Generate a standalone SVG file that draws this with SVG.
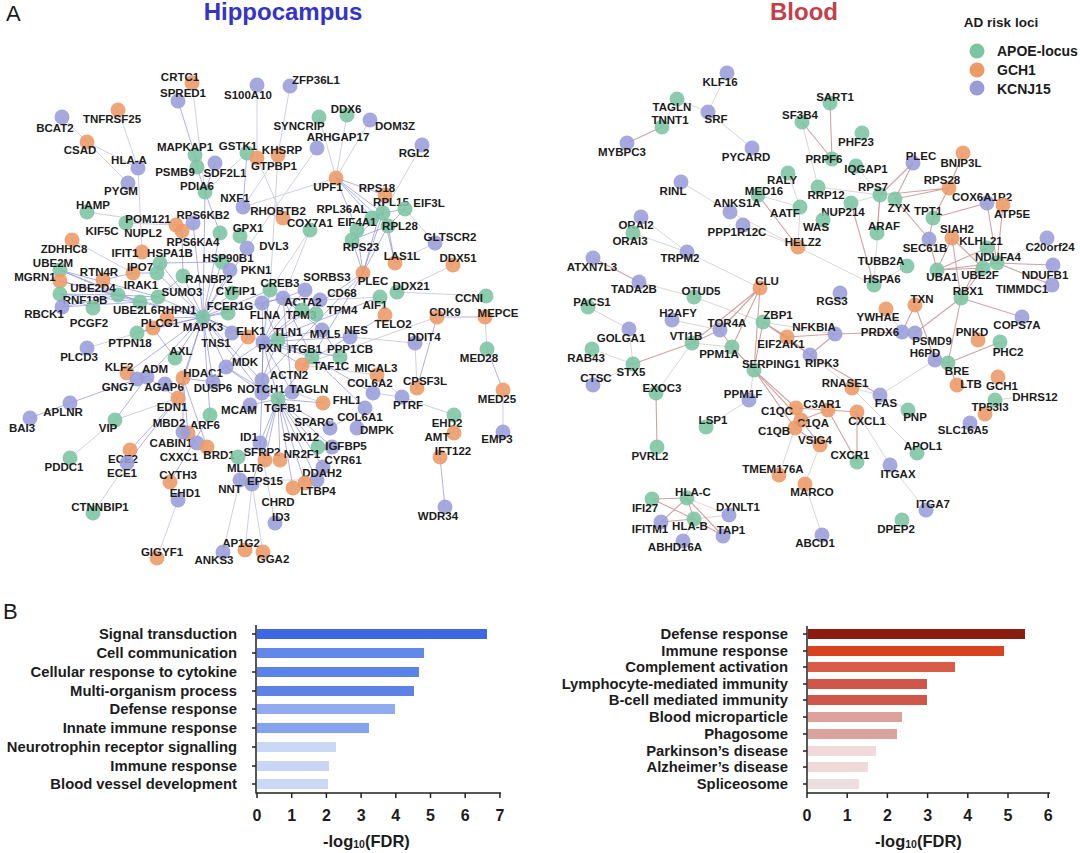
<svg xmlns="http://www.w3.org/2000/svg" width="1080" height="853" viewBox="0 0 1080 853">
<style>
text{font-family:"Liberation Sans",Arial,sans-serif;font-weight:bold;fill:#1c1c1c}
.node text{font-size:11.5px;text-anchor:middle}
.node circle{fill-opacity:.88}
.g circle{fill:#7cc4a2}
.o circle{fill:#ec9a66}
.p circle{fill:#989dd8}
.he{stroke:#7c7cd8;stroke-opacity:.6;stroke-width:1;fill:none}
.hl{stroke:#cfd0e2;stroke-width:1;fill:none}
.be{stroke:#c48282;stroke-opacity:.75;stroke-width:1.1;fill:none}
.bl{stroke:#ddd6d6;stroke-width:1;fill:none}
.lbl{font-size:14.8px;text-anchor:end}
.tick{font-size:16px;text-anchor:middle}
.ax{stroke:#222;stroke-width:1.5;fill:none}
</style>
<rect width="1080" height="853" fill="#ffffff"/>
<text x="6" y="21" style="font-weight:normal;font-size:22px">A</text>
<text x="3" y="619" style="font-weight:normal;font-size:22px">B</text>
<text x="283" y="20" style="font-size:24px;text-anchor:middle;fill:#3434c8">Hippocampus</text>
<text x="804" y="20" style="font-size:24px;text-anchor:middle;fill:#c2404a">Blood</text>
<g id="legend">
<text x="1001" y="27" style="font-size:13.5px;text-anchor:middle">AD risk loci</text>
<circle cx="977" cy="51" r="7.5" fill="#7cc4a2"/><text x="997" y="56" style="font-size:14px">APOE-locus</text>
<circle cx="977" cy="70" r="7.5" fill="#ec9a66"/><text x="997" y="75" style="font-size:14px">GCH1</text>
<circle cx="977" cy="88" r="7.5" fill="#989dd8"/><text x="997" y="94" style="font-size:14px">KCNJ15</text>
</g>
<g id="connectors">
<path class="hl" d="M192 83L205 192M257 85L257 158M290 86L278 155M118 110L138 168M138 168L142 252M62 117L128 183M87 142L138 168M87 212L176 225M319 117L336 178M347 115L336 178M370 120L336 178M317 148L247 248M257 158L283 218M422 145L383 213M405 209L435 243M395 263L435 243M453 265L397 292M486 296L397 292M385 315L380 297M485 317L487 349M503 390L503 432M454 433L454 415M454 415L402 397M402 397L373 393M415 343L417 388M157 558L178 500M178 500L170 482M93 513L127 463M70 458L115 420M115 420L178 398M275 523L260 443M223 552L240 480M245 550L252 484M263 552L252 484M72 240L133 273M87 348L137 333M126 223L176 225M310 230L283 298M270 290L278 155M283 218L243 207M336 178L243 207M377 375L402 397M357 428L365 408M330 428L365 408M317 480L240 480M323 467L332 447M302 365L437 317M350 337L415 343M247 153L205 192M278 155L243 207M320 300L380 297M377 375L302 365M323 403L292 392M310 230L270 290"/>
<path class="he" d="M178 101L195 155M195 155L197 167M197 167L205 192M215 163L205 192M247 153L243 207M205 192L203 317M205 192L220 233M336 178L385 195M336 178L383 213M336 178L388 226M336 178L357 230M336 178L372 218M385 195L383 213M383 213L405 209M388 226L405 209M383 213L352 240M388 226L352 240M385 195L363 273M383 213L363 273M388 226L363 273M357 230L363 273M352 240L363 273M388 226L395 263M383 213L395 263M357 230L383 213M372 218L385 195M203 317L248 337M203 317L263 342M203 317L153 328M203 317L167 318M203 317L183 276M203 317L213 382M203 317L183 378M203 317L228 313M203 317L232 333M203 317L178 398M203 317L226 367M203 317L175 358M203 317L147 377M203 317L127 373M203 317L157 273M203 317L158 297M203 317L232 293M203 317L230 270M203 317L193 223M203 317L222 262M203 317L247 248M203 317L137 333M203 317L262 393M203 317L210 415M203 317L283 298M203 317L278 399M203 317L140 302M203 317L160 263M203 317L220 233M203 317L270 290M263 342L312 357M263 342L278 340M263 342L262 380M263 342L262 303M263 342L278 399M263 342L262 393M263 342L226 367M263 342L270 290M263 342L283 298M263 342L292 392M263 342L302 310M263 342L322 330M263 342L340 357M263 342L302 365M263 342L305 290M263 342L363 273M263 342L350 337M263 342L380 297M278 399L330 428M278 399L260 443M278 399L292 392M278 399L318 447M278 399L332 447M278 399L323 467M278 399L305 483M278 399L265 460M278 399L262 380M278 399L293 488M278 399L250 405M278 399L323 403M278 399L317 480M278 399L312 357M278 399L280 460M278 399L262 393M278 399L252 484M278 399L226 367M283 298L302 310M283 298L316 314M283 298L305 290M283 298L262 303M283 298L292 392M283 298L322 330M283 298L312 357M283 298L270 290M283 298L320 300M312 357L278 340M312 357L373 393M312 357L365 408M340 357L322 330M262 380L278 340M262 303L278 340M133 273L103 280M133 273L157 273M60 270L118 295M60 281L118 295M60 294L140 302M62 307L140 302M60 294L118 295M118 295L158 297M140 302L158 297M60 270L158 297M60 281L140 302M60 270L140 302M62 307L118 295M93 308L60 294M118 295L203 317M160 263L157 273M160 263L222 262M176 225L182 231M182 231L183 276M183 276L158 297M30 418L70 403M70 403L137 379M137 379L147 377M127 373L147 377M147 377L115 420M178 398L130 450M178 398L127 463M130 450L127 463M178 398L147 377M183 378L183 432M183 432L188 433M183 432L197 443M183 378L188 433M183 378L213 382M183 378L207 447M210 415L170 482M226 367L262 393M262 393L260 443M260 443L238 457M260 443L265 460M238 457L240 480M437 317L485 317M437 317L417 388M487 349L503 390M440 457L445 507M363 273L312 357M363 273L262 380M153 328L137 333M213 382L248 337M385 315L302 365M153 328L175 358"/>
<path class="bl" d="M677 99L708 112M708 112L752 148M677 99L662 127M727 73L708 112M802 122L818 187M818 187L880 195M856 166L880 195M681 182L730 212M730 212L798 247M800 207L798 247M798 247L874 285M641 217L687 252M633 233L687 252M687 252L760 288M639 282L694 297M694 297L763 322M672 320L720 330M629 329L633 364M592 349L633 364M593 385L633 364M692 343L656 393M749 400L706 427M820 445L805 484M805 484L822 535M852 388L880 395M880 395L908 410M857 412L890 465M687 498L729 515M694 519L729 515M683 541L694 519M995 400L1012 398M779 475L795 428M886 309L902 332M835 334L763 322M907 266L874 285M1047 238L997 263M890 465L926 510M810 355L852 388M935 360L880 395M754 370L749 400M732 347L692 343M880 195L874 285M823 220L851 203M758 195L800 207M788 173L800 207M880 195L851 203M588 307L629 329M743 225L798 247M852 388L917 453"/>
<path class="be" d="M662 127L627 143M830 103L832 159M802 122L832 159M913 163L880 195M913 163L895 199M949 188L880 195M949 188L933 218M949 188L895 199M963 153L949 188M933 218L987 203M987 203L997 263M1003 205L997 263M952 238L983 268M952 238L961 298M952 238L937 270M895 199L929 239M880 195L877 233M851 203L874 285M997 263L1053 265M997 263L937 270M937 270L983 268M983 268L961 298M987 248L961 298M987 248L937 270M997 263L1052 285M961 298L915 333M961 298L1022 317M961 298L948 363M915 305L902 332M915 305L935 360M835 334L902 332M835 334L810 355M835 334L787 337M810 355L763 322M810 355L880 395M948 363L1000 342M935 360L948 363M948 363L957 385M760 288L720 330M760 288L692 343M760 288L754 370M720 330L692 343M692 343L633 364M732 347L754 370M656 393L657 447M754 370L796 408M754 370L795 428M754 370L801 420M796 408L828 410M801 420L828 410M828 410L857 412M857 412L857 462M828 410L857 462M795 428L820 445M801 420L820 445M593 258L639 282M758 195L798 247M687 498L652 499M687 498L694 519M687 498L723 536M694 519L652 499M694 519L723 536M694 519L661 522M687 498L661 522M763 322L787 337M787 337L810 355M763 322L754 370M720 330L732 347M929 239L937 270M929 239L933 218M760 288L732 347"/>
</g>
<g id="hippocampus-nodes">
<g id="h-CRTC1" class="node o"><circle cx="192" cy="83" r="7.5"/><text x="180" y="81">CRTC1</text></g>
<g id="h-SPRED1" class="node p"><circle cx="178" cy="101" r="7.5"/><text x="183" y="97">SPRED1</text></g>
<g id="h-S100A10" class="node p"><circle cx="257" cy="85" r="7.5"/><text x="248" y="99">S100A10</text></g>
<g id="h-ZFP36L1" class="node p"><circle cx="290" cy="86" r="7.5"/><text x="316" y="84">ZFP36L1</text></g>
<g id="h-TNFRSF25" class="node o"><circle cx="118" cy="110" r="7.5"/><text x="112" y="123">TNFRSF25</text></g>
<g id="h-BCAT2" class="node p"><circle cx="62" cy="117" r="7.5"/><text x="55" y="132">BCAT2</text></g>
<g id="h-CSAD" class="node o"><circle cx="87" cy="142" r="7.5"/><text x="80" y="154">CSAD</text></g>
<g id="h-HLA-A" class="node p"><circle cx="138" cy="168" r="7.5"/><text x="129" y="164">HLA-A</text></g>
<g id="h-PYGM" class="node p"><circle cx="128" cy="183" r="7.5"/><text x="121" y="195">PYGM</text></g>
<g id="h-HAMP" class="node g"><circle cx="87" cy="212" r="7.5"/><text x="93" y="209">HAMP</text></g>
<g id="h-MAPKAP1" class="node g"><circle cx="195" cy="155" r="7.5"/><text x="185" y="151">MAPKAP1</text></g>
<g id="h-GSTK1" class="node g"><circle cx="247" cy="153" r="7.5"/><text x="238" y="150">GSTK1</text></g>
<g id="h-PSMB9" class="node g"><circle cx="197" cy="167" r="7.5"/><text x="175" y="176">PSMB9</text></g>
<g id="h-SDF2L1" class="node p"><circle cx="215" cy="163" r="7.5"/><text x="225" y="177">SDF2L1</text></g>
<g id="h-PDIA6" class="node g"><circle cx="205" cy="192" r="7.5"/><text x="197" y="190">PDIA6</text></g>
<g id="h-GTPBP1" class="node o"><circle cx="257" cy="158" r="7.5"/><text x="274" y="170">GTPBP1</text></g>
<g id="h-KHSRP" class="node o"><circle cx="278" cy="155" r="7.5"/><text x="282" y="154">KHSRP</text></g>
<g id="h-SYNCRIP" class="node g"><circle cx="319" cy="117" r="7.5"/><text x="299" y="130">SYNCRIP</text></g>
<g id="h-DDX6" class="node g"><circle cx="347" cy="115" r="7.5"/><text x="346" y="113">DDX6</text></g>
<g id="h-DOM3Z" class="node p"><circle cx="370" cy="120" r="7.5"/><text x="395" y="130">DOM3Z</text></g>
<g id="h-ARHGAP17" class="node p"><circle cx="317" cy="148" r="7.5"/><text x="338" y="141">ARHGAP17</text></g>
<g id="h-RGL2" class="node p"><circle cx="422" cy="145" r="7.5"/><text x="414" y="157">RGL2</text></g>
<g id="h-UPF1" class="node o"><circle cx="336" cy="178" r="7.5"/><text x="328" y="191">UPF1</text></g>
<g id="h-RPS18" class="node o"><circle cx="385" cy="195" r="7.5"/><text x="377" y="192">RPS18</text></g>
<g id="h-RPL15" class="node g"><circle cx="383" cy="213" r="7.5"/><text x="391" y="206">RPL15</text></g>
<g id="h-EIF3L" class="node g"><circle cx="405" cy="209" r="7.5"/><text x="429" y="207">EIF3L</text></g>
<g id="h-RPL36AL" class="node g"><circle cx="372" cy="218" r="7.5"/><text x="342" y="213">RPL36AL</text></g>
<g id="h-RPL28" class="node g"><circle cx="388" cy="226" r="7.5"/><text x="400" y="230">RPL28</text></g>
<g id="h-EIF4A1" class="node g"><circle cx="357" cy="230" r="7.5"/><text x="357" y="226">EIF4A1</text></g>
<g id="h-RPS23" class="node g"><circle cx="352" cy="240" r="7.5"/><text x="361" y="251">RPS23</text></g>
<g id="h-NXF1" class="node p"><circle cx="243" cy="207" r="7.5"/><text x="235" y="202">NXF1</text></g>
<g id="h-RHOBTB2" class="node o"><circle cx="283" cy="218" r="7.5"/><text x="278" y="215">RHOBTB2</text></g>
<g id="h-COX7A1" class="node g"><circle cx="310" cy="230" r="7.5"/><text x="310" y="227">COX7A1</text></g>
<g id="h-GLTSCR2" class="node p"><circle cx="435" cy="243" r="7.5"/><text x="450" y="241">GLTSCR2</text></g>
<g id="h-LAS1L" class="node o"><circle cx="395" cy="263" r="7.5"/><text x="402" y="260">LAS1L</text></g>
<g id="h-DDX51" class="node o"><circle cx="453" cy="265" r="7.5"/><text x="458" y="262">DDX51</text></g>
<g id="h-KIF5C" class="node g"><circle cx="126" cy="223" r="7.5"/><text x="102" y="235">KIF5C</text></g>
<g id="h-RPS6KB2" class="node p"><circle cx="193" cy="223" r="7.5"/><text x="203" y="219">RPS6KB2</text></g>
<g id="h-NUPL2" class="node o"><circle cx="182" cy="231" r="7.5"/><text x="143" y="237">NUPL2</text></g>
<g id="h-POM121" class="node o"><circle cx="176" cy="225" r="7.5"/><text x="148" y="223">POM121</text></g>
<g id="h-RPS6KA4" class="node g"><circle cx="220" cy="233" r="7.5"/><text x="193" y="246">RPS6KA4</text></g>
<g id="h-GPX1" class="node g"><circle cx="240" cy="236" r="7.5"/><text x="248" y="232">GPX1</text></g>
<g id="h-ZDHHC8" class="node o"><circle cx="72" cy="240" r="7.5"/><text x="64" y="253">ZDHHC8</text></g>
<g id="h-IFIT1" class="node o"><circle cx="142" cy="252" r="7.5"/><text x="125" y="257">IFIT1</text></g>
<g id="h-HSPA1B" class="node g"><circle cx="160" cy="263" r="7.5"/><text x="170" y="257">HSPA1B</text></g>
<g id="h-HSP90B1" class="node g"><circle cx="222" cy="262" r="7.5"/><text x="228" y="262">HSP90B1</text></g>
<g id="h-DVL3" class="node p"><circle cx="247" cy="248" r="7.5"/><text x="274" y="250">DVL3</text></g>
<g id="h-UBE2M" class="node g"><circle cx="60" cy="270" r="7.5"/><text x="53" y="267">UBE2M</text></g>
<g id="h-MGRN1" class="node o"><circle cx="60" cy="281" r="7.5"/><text x="35" y="281">MGRN1</text></g>
<g id="h-RTN4R" class="node o"><circle cx="103" cy="280" r="7.5"/><text x="99" y="276">RTN4R</text></g>
<g id="h-IPO7" class="node o"><circle cx="133" cy="273" r="7.5"/><text x="140" y="271">IPO7</text></g>
<g id="h-IRAK1" class="node g"><circle cx="157" cy="273" r="7.5"/><text x="141" y="289">IRAK1</text></g>
<g id="h-PKN1" class="node p"><circle cx="230" cy="270" r="7.5"/><text x="256" y="274">PKN1</text></g>
<g id="h-RANBP2" class="node g"><circle cx="183" cy="276" r="7.5"/><text x="209" y="283">RANBP2</text></g>
<g id="h-RNF19B" class="node g"><circle cx="60" cy="294" r="7.5"/><text x="85" y="304">RNF19B</text></g>
<g id="h-UBE2D4" class="node g"><circle cx="118" cy="295" r="7.5"/><text x="93" y="292">UBE2D4</text></g>
<g id="h-SUMO3" class="node g"><circle cx="158" cy="297" r="7.5"/><text x="182" y="296">SUMO3</text></g>
<g id="h-CYFIP1" class="node g"><circle cx="232" cy="293" r="7.5"/><text x="236" y="295">CYFIP1</text></g>
<g id="h-RBCK1" class="node p"><circle cx="62" cy="307" r="7.5"/><text x="44" y="318">RBCK1</text></g>
<g id="h-PCGF2" class="node g"><circle cx="93" cy="308" r="7.5"/><text x="89" y="327">PCGF2</text></g>
<g id="h-UBE2L6" class="node g"><circle cx="140" cy="302" r="7.5"/><text x="135" y="314">UBE2L6</text></g>
<g id="h-RHPN1" class="node o"><circle cx="167" cy="318" r="7.5"/><text x="177" y="314">RHPN1</text></g>
<g id="h-FCER1G" class="node g"><circle cx="228" cy="313" r="7.5"/><text x="230" y="310">FCER1G</text></g>
<g id="h-PLCG1" class="node o"><circle cx="153" cy="328" r="7.5"/><text x="160" y="327">PLCG1</text></g>
<g id="h-MAPK3" class="node g"><circle cx="203" cy="317" r="7.5"/><text x="203" y="331">MAPK3</text></g>
<g id="h-CREB3" class="node g"><circle cx="270" cy="290" r="7.5"/><text x="280" y="287">CREB3</text></g>
<g id="h-SORBS3" class="node p"><circle cx="305" cy="290" r="7.5"/><text x="327" y="281">SORBS3</text></g>
<g id="h-CD68" class="node p"><circle cx="320" cy="300" r="7.5"/><text x="342" y="297">CD68</text></g>
<g id="h-ACTA2" class="node p"><circle cx="283" cy="298" r="7.5"/><text x="303" y="306">ACTA2</text></g>
<g id="h-PLEC" class="node o"><circle cx="363" cy="273" r="7.5"/><text x="373" y="285">PLEC</text></g>
<g id="h-DDX21" class="node g"><circle cx="397" cy="292" r="7.5"/><text x="411" y="290">DDX21</text></g>
<g id="h-AIF1" class="node g"><circle cx="380" cy="297" r="7.5"/><text x="375" y="309">AIF1</text></g>
<g id="h-CCNI" class="node g"><circle cx="486" cy="296" r="7.5"/><text x="469" y="302">CCNI</text></g>
<g id="h-FLNA" class="node p"><circle cx="262" cy="303" r="7.5"/><text x="265" y="319">FLNA</text></g>
<g id="h-TPM3" class="node g"><circle cx="302" cy="310" r="7.5"/><text x="301" y="319">TPM3</text></g>
<g id="h-TPM4" class="node g"><circle cx="316" cy="314" r="7.5"/><text x="342" y="314">TPM4</text></g>
<g id="h-CDK9" class="node o"><circle cx="437" cy="317" r="7.5"/><text x="445" y="316">CDK9</text></g>
<g id="h-MEPCE" class="node o"><circle cx="485" cy="317" r="7.5"/><text x="498" y="317">MEPCE</text></g>
<g id="h-TELO2" class="node o"><circle cx="385" cy="315" r="7.5"/><text x="393" y="328">TELO2</text></g>
<g id="h-NES" class="node p"><circle cx="350" cy="337" r="7.5"/><text x="356" y="334">NES</text></g>
<g id="h-DDIT4" class="node p"><circle cx="415" cy="343" r="7.5"/><text x="424" y="341">DDIT4</text></g>
<g id="h-TNS1" class="node p"><circle cx="232" cy="333" r="7.5"/><text x="216" y="347">TNS1</text></g>
<g id="h-ELK1" class="node o"><circle cx="248" cy="337" r="7.5"/><text x="251" y="335">ELK1</text></g>
<g id="h-TLN1" class="node g"><circle cx="278" cy="340" r="7.5"/><text x="288" y="336">TLN1</text></g>
<g id="h-MYL5" class="node p"><circle cx="322" cy="330" r="7.5"/><text x="325" y="338">MYL5</text></g>
<g id="h-PXN" class="node p"><circle cx="263" cy="342" r="7.5"/><text x="270" y="352">PXN</text></g>
<g id="h-ITGB1" class="node g"><circle cx="312" cy="357" r="7.5"/><text x="305" y="353">ITGB1</text></g>
<g id="h-PPP1CB" class="node g"><circle cx="340" cy="357" r="7.5"/><text x="350" y="353">PPP1CB</text></g>
<g id="h-MED28" class="node g"><circle cx="487" cy="349" r="7.5"/><text x="479" y="362">MED28</text></g>
<g id="h-PTPN18" class="node g"><circle cx="137" cy="333" r="7.5"/><text x="130" y="347">PTPN18</text></g>
<g id="h-PLCD3" class="node p"><circle cx="87" cy="348" r="7.5"/><text x="79" y="361">PLCD3</text></g>
<g id="h-AXL" class="node g"><circle cx="175" cy="358" r="7.5"/><text x="181" y="355">AXL</text></g>
<g id="h-MDK" class="node p"><circle cx="226" cy="367" r="7.5"/><text x="245" y="366">MDK</text></g>
<g id="h-TAF1C" class="node o"><circle cx="302" cy="365" r="7.5"/><text x="331" y="370">TAF1C</text></g>
<g id="h-MICAL3" class="node o"><circle cx="377" cy="375" r="7.5"/><text x="376" y="372">MICAL3</text></g>
<g id="h-KLF2" class="node o"><circle cx="127" cy="373" r="7.5"/><text x="119" y="371">KLF2</text></g>
<g id="h-GNG7" class="node p"><circle cx="137" cy="379" r="7.5"/><text x="118" y="391">GNG7</text></g>
<g id="h-ADM" class="node p"><circle cx="147" cy="377" r="7.5"/><text x="155" y="373">ADM</text></g>
<g id="h-AGAP6" class="node p"><circle cx="165" cy="384" r="7.5"/><text x="164" y="391">AGAP6</text></g>
<g id="h-HDAC1" class="node o"><circle cx="183" cy="378" r="7.5"/><text x="203" y="377">HDAC1</text></g>
<g id="h-DUSP6" class="node p"><circle cx="213" cy="382" r="7.5"/><text x="213" y="392">DUSP6</text></g>
<g id="h-ACTN2" class="node p"><circle cx="262" cy="380" r="7.5"/><text x="289" y="379">ACTN2</text></g>
<g id="h-COL6A2" class="node p"><circle cx="373" cy="393" r="7.5"/><text x="370" y="387">COL6A2</text></g>
<g id="h-CPSF3L" class="node o"><circle cx="417" cy="388" r="7.5"/><text x="425" y="385">CPSF3L</text></g>
<g id="h-NOTCH1" class="node p"><circle cx="262" cy="393" r="7.5"/><text x="261" y="393">NOTCH1</text></g>
<g id="h-TAGLN" class="node p"><circle cx="292" cy="392" r="7.5"/><text x="309" y="393">TAGLN</text></g>
<g id="h-MED25" class="node o"><circle cx="503" cy="390" r="7.5"/><text x="497" y="403">MED25</text></g>
<g id="h-EDN1" class="node o"><circle cx="178" cy="398" r="7.5"/><text x="172" y="411">EDN1</text></g>
<g id="h-APLNR" class="node p"><circle cx="70" cy="403" r="7.5"/><text x="63" y="416">APLNR</text></g>
<g id="h-MCAM" class="node p"><circle cx="250" cy="405" r="7.5"/><text x="239" y="414">MCAM</text></g>
<g id="h-TGFB1" class="node g"><circle cx="278" cy="399" r="7.5"/><text x="283" y="412">TGFB1</text></g>
<g id="h-FHL1" class="node o"><circle cx="323" cy="403" r="7.5"/><text x="347" y="404">FHL1</text></g>
<g id="h-PTRF" class="node p"><circle cx="402" cy="397" r="7.5"/><text x="408" y="409">PTRF</text></g>
<g id="h-COL6A1" class="node p"><circle cx="365" cy="408" r="7.5"/><text x="360" y="421">COL6A1</text></g>
<g id="h-BAI3" class="node p"><circle cx="30" cy="418" r="7.5"/><text x="22" y="432">BAI3</text></g>
<g id="h-VIP" class="node g"><circle cx="115" cy="420" r="7.5"/><text x="108" y="432">VIP</text></g>
<g id="h-ARF6" class="node g"><circle cx="210" cy="415" r="7.5"/><text x="205" y="429">ARF6</text></g>
<g id="h-EHD2" class="node g"><circle cx="454" cy="415" r="7.5"/><text x="447" y="427">EHD2</text></g>
<g id="h-SPARC" class="node p"><circle cx="330" cy="428" r="7.5"/><text x="314" y="426">SPARC</text></g>
<g id="h-DMPK" class="node p"><circle cx="357" cy="428" r="7.5"/><text x="377" y="434">DMPK</text></g>
<g id="h-CABIN1" class="node o"><circle cx="188" cy="433" r="7.5"/><text x="171" y="447">CABIN1</text></g>
<g id="h-MBD2" class="node p"><circle cx="183" cy="432" r="7.5"/><text x="169" y="427">MBD2</text></g>
<g id="h-AMT" class="node o"><circle cx="454" cy="433" r="7.5"/><text x="437" y="441">AMT</text></g>
<g id="h-EMP3" class="node p"><circle cx="503" cy="432" r="7.5"/><text x="497" y="443">EMP3</text></g>
<g id="h-ID1" class="node p"><circle cx="260" cy="443" r="7.5"/><text x="249" y="441">ID1</text></g>
<g id="h-SNX12" class="node g"><circle cx="318" cy="447" r="7.5"/><text x="301" y="441">SNX12</text></g>
<g id="h-IGFBP5" class="node p"><circle cx="332" cy="447" r="7.5"/><text x="346" y="450">IGFBP5</text></g>
<g id="h-ECE2" class="node o"><circle cx="130" cy="450" r="7.5"/><text x="123" y="463">ECE2</text></g>
<g id="h-CXXC1" class="node p"><circle cx="197" cy="443" r="7.5"/><text x="179" y="461">CXXC1</text></g>
<g id="h-BRD1" class="node o"><circle cx="207" cy="447" r="7.5"/><text x="219" y="459">BRD1</text></g>
<g id="h-SFRP2" class="node o"><circle cx="265" cy="460" r="7.5"/><text x="262" y="456">SFRP2</text></g>
<g id="h-NR2F1" class="node o"><circle cx="280" cy="460" r="7.5"/><text x="302" y="458">NR2F1</text></g>
<g id="h-IFT122" class="node o"><circle cx="440" cy="457" r="7.5"/><text x="453" y="455">IFT122</text></g>
<g id="h-PDDC1" class="node g"><circle cx="70" cy="458" r="7.5"/><text x="64" y="471">PDDC1</text></g>
<g id="h-ECE1" class="node p"><circle cx="127" cy="463" r="7.5"/><text x="122" y="477">ECE1</text></g>
<g id="h-MLLT6" class="node g"><circle cx="238" cy="457" r="7.5"/><text x="245" y="472">MLLT6</text></g>
<g id="h-CYR61" class="node p"><circle cx="323" cy="467" r="7.5"/><text x="343" y="464">CYR61</text></g>
<g id="h-DDAH2" class="node p"><circle cx="317" cy="480" r="7.5"/><text x="322" y="477">DDAH2</text></g>
<g id="h-CYTH3" class="node o"><circle cx="170" cy="482" r="7.5"/><text x="178" y="479">CYTH3</text></g>
<g id="h-NNT" class="node p"><circle cx="240" cy="480" r="7.5"/><text x="230" y="493">NNT</text></g>
<g id="h-EPS15" class="node p"><circle cx="252" cy="484" r="7.5"/><text x="265" y="485">EPS15</text></g>
<g id="h-CHRD" class="node o"><circle cx="293" cy="488" r="7.5"/><text x="278" y="506">CHRD</text></g>
<g id="h-LTBP4" class="node o"><circle cx="305" cy="483" r="7.5"/><text x="318" y="495">LTBP4</text></g>
<g id="h-EHD1" class="node p"><circle cx="178" cy="500" r="7.5"/><text x="185" y="497">EHD1</text></g>
<g id="h-CTNNBIP1" class="node g"><circle cx="93" cy="513" r="7.5"/><text x="100" y="511">CTNNBIP1</text></g>
<g id="h-WDR34" class="node p"><circle cx="445" cy="507" r="7.5"/><text x="438" y="520">WDR34</text></g>
<g id="h-ID3" class="node p"><circle cx="275" cy="523" r="7.5"/><text x="281" y="521">ID3</text></g>
<g id="h-AP1G2" class="node o"><circle cx="245" cy="550" r="7.5"/><text x="241" y="547">AP1G2</text></g>
<g id="h-GGA2" class="node o"><circle cx="263" cy="552" r="7.5"/><text x="273" y="563">GGA2</text></g>
<g id="h-GIGYF1" class="node o"><circle cx="157" cy="558" r="7.5"/><text x="162" y="556">GIGYF1</text></g>
<g id="h-ANKS3" class="node p"><circle cx="223" cy="552" r="7.5"/><text x="214" y="564">ANKS3</text></g>
</g>
<g id="blood-nodes">
<g id="b-KLF16" class="node p"><circle cx="727" cy="73" r="7.5"/><text x="720" y="86">KLF16</text></g>
<g id="b-TAGLN" class="node g"><circle cx="677" cy="99" r="7.5"/><text x="672" y="111">TAGLN</text></g>
<g id="b-SRF" class="node p"><circle cx="708" cy="112" r="7.5"/><text x="716" y="123">SRF</text></g>
<g id="b-TNNT1" class="node g"><circle cx="662" cy="127" r="7.5"/><text x="670" y="124">TNNT1</text></g>
<g id="b-MYBPC3" class="node p"><circle cx="627" cy="143" r="7.5"/><text x="622" y="156">MYBPC3</text></g>
<g id="b-PYCARD" class="node p"><circle cx="752" cy="148" r="7.5"/><text x="746" y="161">PYCARD</text></g>
<g id="b-SART1" class="node g"><circle cx="830" cy="103" r="7.5"/><text x="835" y="101">SART1</text></g>
<g id="b-SF3B4" class="node g"><circle cx="802" cy="122" r="7.5"/><text x="800" y="119">SF3B4</text></g>
<g id="b-PHF23" class="node g"><circle cx="862" cy="133" r="7.5"/><text x="856" y="146">PHF23</text></g>
<g id="b-PRPF6" class="node g"><circle cx="832" cy="159" r="7.5"/><text x="824" y="163">PRPF6</text></g>
<g id="b-PLEC" class="node p"><circle cx="913" cy="163" r="7.5"/><text x="921" y="160">PLEC</text></g>
<g id="b-BNIP3L" class="node o"><circle cx="963" cy="153" r="7.5"/><text x="961" y="167">BNIP3L</text></g>
<g id="b-IQGAP1" class="node g"><circle cx="856" cy="166" r="7.5"/><text x="866" y="173">IQGAP1</text></g>
<g id="b-RPS28" class="node o"><circle cx="949" cy="188" r="7.5"/><text x="942" y="184">RPS28</text></g>
<g id="b-RINL" class="node p"><circle cx="681" cy="182" r="7.5"/><text x="673" y="195">RINL</text></g>
<g id="b-RALY" class="node g"><circle cx="788" cy="173" r="7.5"/><text x="782" y="184">RALY</text></g>
<g id="b-MED16" class="node g"><circle cx="758" cy="195" r="7.5"/><text x="764" y="195">MED16</text></g>
<g id="b-RRP12" class="node g"><circle cx="818" cy="187" r="7.5"/><text x="826" y="199">RRP12</text></g>
<g id="b-RPS7" class="node g"><circle cx="880" cy="195" r="7.5"/><text x="873" y="191">RPS7</text></g>
<g id="b-ANKS1A" class="node p"><circle cx="730" cy="212" r="7.5"/><text x="737" y="207">ANKS1A</text></g>
<g id="b-AATF" class="node g"><circle cx="800" cy="207" r="7.5"/><text x="785" y="217">AATF</text></g>
<g id="b-NUP214" class="node g"><circle cx="851" cy="203" r="7.5"/><text x="843" y="216">NUP214</text></g>
<g id="b-ZYX" class="node g"><circle cx="895" cy="199" r="7.5"/><text x="899" y="212">ZYX</text></g>
<g id="b-COX6A1P2" class="node p"><circle cx="987" cy="203" r="7.5"/><text x="982" y="201">COX6A1P2</text></g>
<g id="b-ATP5E" class="node o"><circle cx="1003" cy="205" r="7.5"/><text x="1012" y="218">ATP5E</text></g>
<g id="b-TPT1" class="node g"><circle cx="933" cy="218" r="7.5"/><text x="928" y="215">TPT1</text></g>
<g id="b-ORAI2" class="node p"><circle cx="641" cy="217" r="7.5"/><text x="636" y="229">ORAI2</text></g>
<g id="b-ORAI3" class="node g"><circle cx="633" cy="233" r="7.5"/><text x="630" y="245">ORAI3</text></g>
<g id="b-PPP1R12C" class="node p"><circle cx="743" cy="225" r="7.5"/><text x="737" y="236">PPP1R12C</text></g>
<g id="b-WAS" class="node g"><circle cx="823" cy="220" r="7.5"/><text x="816" y="231">WAS</text></g>
<g id="b-ARAF" class="node g"><circle cx="877" cy="233" r="7.5"/><text x="884" y="230">ARAF</text></g>
<g id="b-SIAH2" class="node o"><circle cx="952" cy="238" r="7.5"/><text x="957" y="233">SIAH2</text></g>
<g id="b-SEC61B" class="node p"><circle cx="929" cy="239" r="7.5"/><text x="925" y="252">SEC61B</text></g>
<g id="b-KLHL21" class="node g"><circle cx="987" cy="248" r="7.5"/><text x="981" y="245">KLHL21</text></g>
<g id="b-C20orf24" class="node p"><circle cx="1047" cy="238" r="7.5"/><text x="1050" y="251">C20orf24</text></g>
<g id="b-HELZ2" class="node o"><circle cx="798" cy="247" r="7.5"/><text x="803" y="246">HELZ2</text></g>
<g id="b-TRPM2" class="node p"><circle cx="687" cy="252" r="7.5"/><text x="680" y="262">TRPM2</text></g>
<g id="b-ATXN7L3" class="node p"><circle cx="593" cy="258" r="7.5"/><text x="592" y="271">ATXN7L3</text></g>
<g id="b-NDUFA4" class="node g"><circle cx="997" cy="263" r="7.5"/><text x="998" y="261">NDUFA4</text></g>
<g id="b-TUBB2A" class="node g"><circle cx="907" cy="266" r="7.5"/><text x="881" y="265">TUBB2A</text></g>
<g id="b-NDUFB1" class="node p"><circle cx="1053" cy="265" r="7.5"/><text x="1045" y="279">NDUFB1</text></g>
<g id="b-UBE2F" class="node g"><circle cx="983" cy="268" r="7.5"/><text x="980" y="279">UBE2F</text></g>
<g id="b-UBA1" class="node g"><circle cx="937" cy="270" r="7.5"/><text x="942" y="281">UBA1</text></g>
<g id="b-HSPA6" class="node g"><circle cx="874" cy="285" r="7.5"/><text x="882" y="283">HSPA6</text></g>
<g id="b-TIMMDC1" class="node p"><circle cx="1052" cy="285" r="7.5"/><text x="1022" y="293">TIMMDC1</text></g>
<g id="b-TADA2B" class="node p"><circle cx="639" cy="282" r="7.5"/><text x="634" y="293">TADA2B</text></g>
<g id="b-CLU" class="node o"><circle cx="760" cy="288" r="7.5"/><text x="767" y="285">CLU</text></g>
<g id="b-OTUD5" class="node g"><circle cx="694" cy="297" r="7.5"/><text x="701" y="295">OTUD5</text></g>
<g id="b-RBX1" class="node g"><circle cx="961" cy="298" r="7.5"/><text x="968" y="295">RBX1</text></g>
<g id="b-RGS3" class="node p"><circle cx="840" cy="293" r="7.5"/><text x="832" y="305">RGS3</text></g>
<g id="b-TXN" class="node o"><circle cx="915" cy="305" r="7.5"/><text x="922" y="303">TXN</text></g>
<g id="b-PACS1" class="node g"><circle cx="588" cy="307" r="7.5"/><text x="592" y="306">PACS1</text></g>
<g id="b-YWHAE" class="node o"><circle cx="886" cy="309" r="7.5"/><text x="878" y="321">YWHAE</text></g>
<g id="b-H2AFY" class="node p"><circle cx="672" cy="320" r="7.5"/><text x="678" y="317">H2AFY</text></g>
<g id="b-ZBP1" class="node g"><circle cx="763" cy="322" r="7.5"/><text x="778" y="319">ZBP1</text></g>
<g id="b-COPS7A" class="node p"><circle cx="1022" cy="317" r="7.5"/><text x="1017" y="329">COPS7A</text></g>
<g id="b-TOR4A" class="node p"><circle cx="720" cy="330" r="7.5"/><text x="727" y="327">TOR4A</text></g>
<g id="b-GOLGA1" class="node p"><circle cx="629" cy="329" r="7.5"/><text x="621" y="342">GOLGA1</text></g>
<g id="b-NFKBIA" class="node p"><circle cx="835" cy="334" r="7.5"/><text x="814" y="331">NFKBIA</text></g>
<g id="b-PRDX6" class="node p"><circle cx="902" cy="332" r="7.5"/><text x="880" y="336">PRDX6</text></g>
<g id="b-PSMD9" class="node p"><circle cx="915" cy="333" r="7.5"/><text x="932" y="345">PSMD9</text></g>
<g id="b-VTI1B" class="node g"><circle cx="692" cy="343" r="7.5"/><text x="686" y="340">VTI1B</text></g>
<g id="b-EIF2AK1" class="node o"><circle cx="787" cy="337" r="7.5"/><text x="781" y="348">EIF2AK1</text></g>
<g id="b-PNKD" class="node o"><circle cx="978" cy="340" r="7.5"/><text x="972" y="336">PNKD</text></g>
<g id="b-PHC2" class="node g"><circle cx="1000" cy="342" r="7.5"/><text x="1008" y="356">PHC2</text></g>
<g id="b-PPM1A" class="node g"><circle cx="732" cy="347" r="7.5"/><text x="719" y="358">PPM1A</text></g>
<g id="b-RAB43" class="node g"><circle cx="592" cy="349" r="7.5"/><text x="586" y="362">RAB43</text></g>
<g id="b-RIPK3" class="node p"><circle cx="810" cy="355" r="7.5"/><text x="822" y="367">RIPK3</text></g>
<g id="b-H6PD" class="node p"><circle cx="935" cy="360" r="7.5"/><text x="925" y="357">H6PD</text></g>
<g id="b-BRE" class="node g"><circle cx="948" cy="363" r="7.5"/><text x="957" y="375">BRE</text></g>
<g id="b-STX5" class="node g"><circle cx="633" cy="364" r="7.5"/><text x="631" y="376">STX5</text></g>
<g id="b-SERPING1" class="node g"><circle cx="754" cy="370" r="7.5"/><text x="771" y="368">SERPING1</text></g>
<g id="b-GCH1" class="node o"><circle cx="998" cy="377" r="7.5"/><text x="1002" y="390">GCH1</text></g>
<g id="b-CTSC" class="node p"><circle cx="593" cy="385" r="7.5"/><text x="596" y="382">CTSC</text></g>
<g id="b-LTB" class="node o"><circle cx="957" cy="385" r="7.5"/><text x="971" y="388">LTB</text></g>
<g id="b-RNASE1" class="node o"><circle cx="852" cy="388" r="7.5"/><text x="845" y="387">RNASE1</text></g>
<g id="b-EXOC3" class="node g"><circle cx="656" cy="393" r="7.5"/><text x="662" y="392">EXOC3</text></g>
<g id="b-FAS" class="node p"><circle cx="880" cy="395" r="7.5"/><text x="886" y="407">FAS</text></g>
<g id="b-PPM1F" class="node p"><circle cx="749" cy="400" r="7.5"/><text x="743" y="398">PPM1F</text></g>
<g id="b-DHRS12" class="node g"><circle cx="995" cy="400" r="7.5"/><text x="1035" y="401">DHRS12</text></g>
<g id="b-C1QC" class="node o"><circle cx="796" cy="408" r="7.5"/><text x="777" y="415">C1QC</text></g>
<g id="b-C3AR1" class="node o"><circle cx="828" cy="410" r="7.5"/><text x="822" y="408">C3AR1</text></g>
<g id="b-PNP" class="node g"><circle cx="908" cy="410" r="7.5"/><text x="915" y="421">PNP</text></g>
<g id="b-CXCL1" class="node o"><circle cx="857" cy="412" r="7.5"/><text x="867" y="425">CXCL1</text></g>
<g id="b-TP53I3" class="node o"><circle cx="985" cy="414" r="7.5"/><text x="990" y="411">TP53I3</text></g>
<g id="b-C1QA" class="node o"><circle cx="801" cy="420" r="7.5"/><text x="813" y="427">C1QA</text></g>
<g id="b-SLC16A5" class="node p"><circle cx="970" cy="423" r="7.5"/><text x="963" y="434">SLC16A5</text></g>
<g id="b-LSP1" class="node g"><circle cx="706" cy="427" r="7.5"/><text x="713" y="424">LSP1</text></g>
<g id="b-C1QB" class="node o"><circle cx="795" cy="428" r="7.5"/><text x="774" y="435">C1QB</text></g>
<g id="b-VSIG4" class="node o"><circle cx="820" cy="445" r="7.5"/><text x="815" y="444">VSIG4</text></g>
<g id="b-PVRL2" class="node g"><circle cx="657" cy="447" r="7.5"/><text x="650" y="460">PVRL2</text></g>
<g id="b-APOL1" class="node g"><circle cx="917" cy="453" r="7.5"/><text x="923" y="450">APOL1</text></g>
<g id="b-CXCR1" class="node g"><circle cx="857" cy="462" r="7.5"/><text x="850" y="459">CXCR1</text></g>
<g id="b-ITGAX" class="node p"><circle cx="890" cy="465" r="7.5"/><text x="898" y="478">ITGAX</text></g>
<g id="b-TMEM176A" class="node o"><circle cx="779" cy="475" r="7.5"/><text x="773" y="473">TMEM176A</text></g>
<g id="b-MARCO" class="node o"><circle cx="805" cy="484" r="7.5"/><text x="812" y="496">MARCO</text></g>
<g id="b-HLA-C" class="node g"><circle cx="687" cy="498" r="7.5"/><text x="693" y="496">HLA-C</text></g>
<g id="b-IFI27" class="node g"><circle cx="652" cy="499" r="7.5"/><text x="645" y="512">IFI27</text></g>
<g id="b-ITGA7" class="node p"><circle cx="926" cy="510" r="7.5"/><text x="933" y="508">ITGA7</text></g>
<g id="b-DYNLT1" class="node p"><circle cx="729" cy="515" r="7.5"/><text x="738" y="511">DYNLT1</text></g>
<g id="b-HLA-B" class="node g"><circle cx="694" cy="519" r="7.5"/><text x="690" y="530">HLA-B</text></g>
<g id="b-DPEP2" class="node g"><circle cx="902" cy="520" r="7.5"/><text x="896" y="533">DPEP2</text></g>
<g id="b-IFITM1" class="node p"><circle cx="661" cy="522" r="7.5"/><text x="650" y="533">IFITM1</text></g>
<g id="b-TAP1" class="node p"><circle cx="723" cy="536" r="7.5"/><text x="731" y="534">TAP1</text></g>
<g id="b-ABCD1" class="node p"><circle cx="822" cy="535" r="7.5"/><text x="815" y="547">ABCD1</text></g>
<g id="b-ABHD16A" class="node p"><circle cx="683" cy="541" r="7.5"/><text x="675" y="551">ABHD16A</text></g>
</g>
<g id="chart-hippocampus">
<rect x="257" y="629" width="230" height="10" fill="#3d68e2"/>
<rect x="257" y="648" width="167" height="10" fill="#6189ea"/>
<rect x="257" y="667" width="162" height="10" fill="#5b83e7"/>
<rect x="257" y="686" width="157" height="10" fill="#5c82e6"/>
<rect x="257" y="704" width="138" height="10" fill="#92aaef"/>
<rect x="257" y="723" width="112" height="10" fill="#85a2ed"/>
<rect x="257" y="742" width="79" height="10" fill="#cad8f6"/>
<rect x="257" y="761" width="72" height="10" fill="#c8d5f5"/>
<rect x="257" y="779" width="71" height="10" fill="#cbd8f6"/>
<path class="ax" d="M256 625V793H501M252 634H256M252 653H256M252 672H256M252 691H256M252 709H256M252 728H256M252 747H256M252 766H256M252 784H256M257 793v5M291.7 793v5M326.4 793v5M361.1 793v5M395.8 793v5M430.5 793v5M465.2 793v5M499.9 793v5"/>
<text class="lbl" x="237" y="639">Signal transduction</text>
<text class="lbl" x="237" y="658">Cell communication</text>
<text class="lbl" x="237" y="677">Cellular response to cytokine</text>
<text class="lbl" x="237" y="696">Multi-organism process</text>
<text class="lbl" x="237" y="714">Defense response</text>
<text class="lbl" x="237" y="733">Innate immune response</text>
<text class="lbl" x="237" y="752">Neurotrophin receptor signalling</text>
<text class="lbl" x="237" y="771">Immune response</text>
<text class="lbl" x="237" y="789">Blood vessel development</text>
<text class="tick" x="257" y="821">0</text><text class="tick" x="291.7" y="821">1</text><text class="tick" x="326.4" y="821">2</text><text class="tick" x="361.1" y="821">3</text><text class="tick" x="395.8" y="821">4</text><text class="tick" x="430.5" y="821">5</text><text class="tick" x="465.2" y="821">6</text><text class="tick" x="499.9" y="821">7</text>
<text x="323" y="847" style="font-size:16.5px">-log<tspan font-size="10.5" dy="1">10</tspan><tspan dy="-1">(FDR)</tspan></text>
</g>
<g id="chart-blood">
<rect x="808" y="629" width="217" height="10" fill="#8a1d10"/>
<rect x="808" y="646" width="196" height="10" fill="#d9421f"/>
<rect x="808" y="662" width="147" height="10" fill="#d95c47"/>
<rect x="808" y="679" width="119" height="10" fill="#d05649"/>
<rect x="808" y="695" width="119" height="10" fill="#d05649"/>
<rect x="808" y="712" width="94" height="10" fill="#dea29c"/>
<rect x="808" y="729" width="89" height="10" fill="#dba39e"/>
<rect x="808" y="746" width="68" height="10" fill="#f1dadb"/>
<rect x="808" y="762" width="60" height="10" fill="#efd9db"/>
<rect x="808" y="779" width="51" height="10" fill="#ecdfe0"/>
<path class="ax" d="M807 626V793H1050M803 634H807M803 651H807M803 667H807M803 684H807M803 700H807M803 717H807M803 734H807M803 751H807M803 767H807M803 784H807M807 793v5M847.2 793v5M887.4 793v5M927.6 793v5M967.8 793v5M1008 793v5M1048.2 793v5"/>
<text class="lbl" x="788" y="639">Defense response</text>
<text class="lbl" x="788" y="656">Immune response</text>
<text class="lbl" x="788" y="672">Complement activation</text>
<text class="lbl" x="788" y="689">Lymphocyte-mediated immunity</text>
<text class="lbl" x="788" y="705">B-cell mediated immunity</text>
<text class="lbl" x="788" y="722">Blood microparticle</text>
<text class="lbl" x="788" y="739">Phagosome</text>
<text class="lbl" x="788" y="756">Parkinson’s disease</text>
<text class="lbl" x="788" y="772">Alzheimer’s disease</text>
<text class="lbl" x="788" y="789">Spliceosome</text>
<text class="tick" x="807" y="821">0</text><text class="tick" x="847.2" y="821">1</text><text class="tick" x="887.4" y="821">2</text><text class="tick" x="927.6" y="821">3</text><text class="tick" x="967.8" y="821">4</text><text class="tick" x="1008" y="821">5</text><text class="tick" x="1048.2" y="821">6</text>
<text x="875" y="847" style="font-size:16.5px">-log<tspan font-size="10.5" dy="1">10</tspan><tspan dy="-1">(FDR)</tspan></text>
</g>
</svg>
